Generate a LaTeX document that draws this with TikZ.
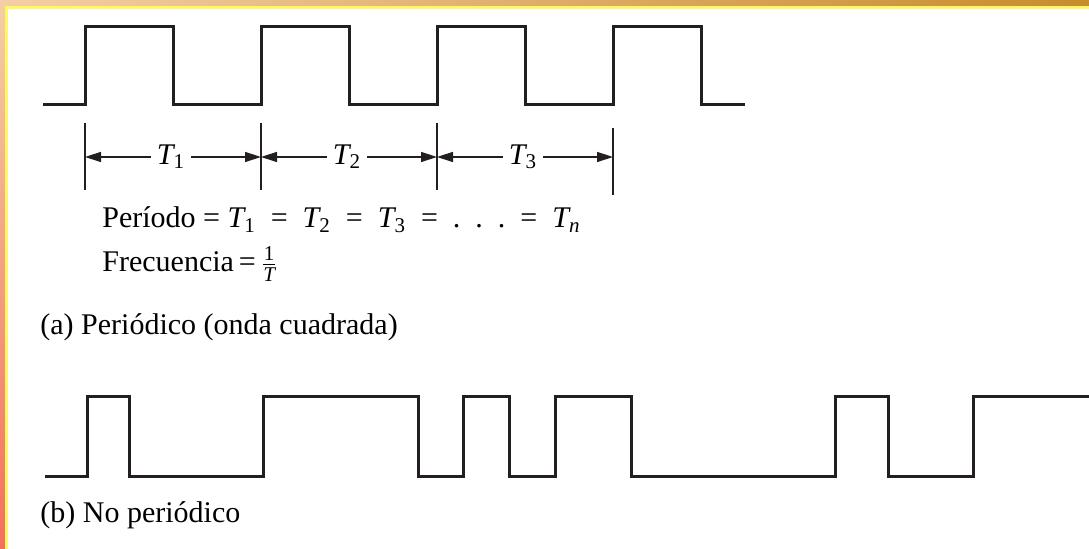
\documentclass[tikz,border=0pt]{standalone}
\usepackage{fontspec}
\setmainfont{Liberation Serif}
\usetikzlibrary{arrows.meta}
\definecolor{ink}{HTML}{231F20}
\definecolor{bandpeach}{RGB}{244,206,165}
\definecolor{bandgold}{RGB}{246,188,72}
\definecolor{banddark}{RGB}{200,140,45}
\definecolor{bandred}{RGB}{244,112,94}
\definecolor{edgeyellow}{RGB}{255,248,100}
\tikzset{wave/.style={draw=ink,line width=1.5pt,line join=miter},tick/.style={draw=ink,line width=.7pt},dim/.style={-{Triangle[length=8pt,width=5pt]},draw=ink,line width=.7pt},lbl/.style={inner sep=3pt,font=\fontsize{15}{18}\selectfont},txt/.style={anchor=base west,inner sep=0pt,font=\fontsize{15}{18}\selectfont}}
\newcommand\Tn[1]{$\mathit{T}_{\mathrm{#1}}$}

\begin{document}
\begin{tikzpicture}[x=.5pt,y=-.5pt]
\useasboundingbox (0,0) rectangle (1089,549);
% marco de la diapositiva
\shade[left color=bandpeach,middle color=bandgold,right color=banddark] (0,0) rectangle (1089,6);
\shade[top color=bandpeach,bottom color=bandred] (0,6) rectangle (5,549);
\fill[edgeyellow] (5,6) rectangle (1089,9);
\fill[edgeyellow] (5,6) rectangle (8,549);
% (a) onda cuadrada
\draw[wave] (43,105) foreach \x in {85,261,437,613}{ -- (\x,105) -- (\x,27) -- (\x+88,27) -- (\x+88,105)} -- (745,105);
\foreach \x/\a/\b in {85/123/190,261/123/190,437/123/190,613/128/195} \draw[tick] (\x,\a) -- (\x,\b);
\foreach \i/\x in {0/85,1/261,2/437,3/613} \coordinate (k\i) at (\x,157);
\node[lbl] (T1) at (171,157) {\Tn{1}};
\node[lbl] (T2) at (347,157) {\Tn{2}};
\node[lbl] (T3) at (523,157) {\Tn{3}};
\foreach \i/\a/\b in {1/0/1,2/1/2,3/2/3}{\draw[dim] (T\i) -- (k\a);\draw[dim] (T\i) -- (k\b);}
\node[txt] (periodo) at (102,228) {Período = \Tn{1}\ \ =\ \ \Tn{2}\ \ =\ \ \Tn{3}\ \ =\ \ .\ \ .\ \ .\ \ =\ \ $\mathit{T}_{\mathit{n}}$};
\node[txt] (frec) at (102,272) {Frecuencia\,=\,$\frac{\mathrm{1}}{\mathit{T}}$};
\node[txt] (capa) at (40,335) {(a) Periódico (onda cuadrada)};
% (b) no periodica
\draw[wave] (45,477) foreach \r/\f in {87/129,263/418,463/509,555/631,835/888}{ -- (\r,477) -- (\r,397) -- (\f,397) -- (\f,477)} -- (973,477) -- (973,397) -- (1089,397);
\node[txt] (capb) at (40,523) {(b) No periódico};
\end{tikzpicture}
\end{document}
